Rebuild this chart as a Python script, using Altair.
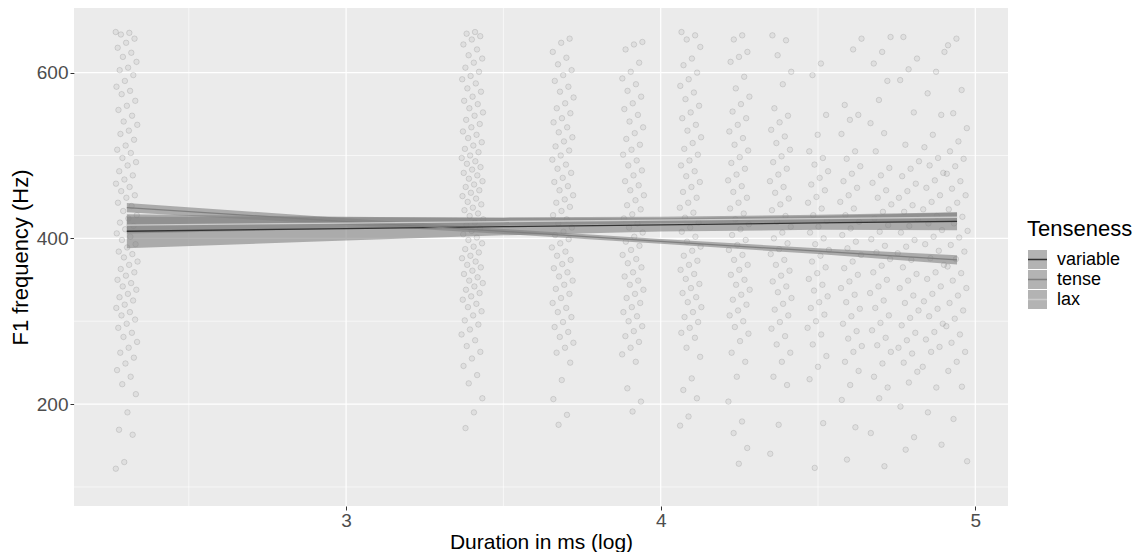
import altair as alt
import pandas as pd

# ---- scatter data: durations (ms) and F1 values read per column ----
durations = [10, 30, 40, 50, 60, 70, 80, 90, 100, 110, 120, 130, 140]

f1_10 = [649, 648, 646, 641, 636, 630, 624, 619, 613, 606, 603, 597, 590, 583, 578, 574, 566, 560, 555, 548,
         541, 537, 530, 526, 519, 512, 507, 503, 497, 492, 488, 481, 476, 471, 466, 462, 457, 452, 449, 443,
         439, 433, 428, 424, 419, 415, 411, 406, 402, 398, 393, 389, 384, 381, 377, 372, 368, 363, 359, 355,
         350, 346, 342, 338, 333, 329, 325, 320, 316, 311, 307, 302, 297, 292, 286, 281, 275, 268, 262, 256,
         249, 241, 233, 224, 212, 190, 169, 163, 130, 122]
f1_30 = [649, 647, 644, 640, 634, 628, 621, 617, 612, 606, 601, 596, 592, 587, 581, 577, 571, 566, 562, 557,
         552, 548, 543, 538, 534, 529, 525, 521, 516, 512, 508, 504, 500, 497, 493, 490, 486, 483, 479, 476,
         472, 469, 465, 462, 458, 455, 451, 448, 444, 441, 437, 434, 430, 427, 423, 419, 416, 412, 409, 405,
         401, 398, 394, 390, 387, 383, 379, 376, 372, 368, 365, 361, 357, 353, 349, 346, 342, 338, 334, 330,
         326, 321, 317, 312, 307, 301, 296, 290, 284, 277, 270, 263, 255, 246, 235, 225, 207, 190, 171]
f1_40 = [641, 636, 625, 618, 610, 603, 597, 590, 583, 577, 570, 563, 557, 551, 545, 540, 534, 528, 522, 517,
         511, 506, 500, 495, 489, 484, 479, 473, 468, 463, 458, 452, 447, 443, 438, 433, 428, 423, 418, 413,
         408, 404, 399, 394, 389, 384, 379, 374, 369, 364, 359, 354, 349, 344, 339, 333, 328, 322, 316, 311,
         305, 299, 293, 287, 281, 274, 268, 262, 250, 229, 206, 187, 175]
f1_50 = [637, 634, 628, 612, 601, 593, 586, 578, 571, 563, 556, 549, 541, 534, 527, 520, 513, 507, 501, 494,
         488, 482, 476, 469, 464, 458, 452, 446, 440, 435, 429, 424, 418, 413, 407, 402, 396, 391, 386, 380,
         375, 370, 365, 359, 354, 349, 344, 338, 333, 328, 322, 317, 311, 306, 300, 294, 288, 282, 275, 268,
         260, 251, 219, 203, 191]
f1_60 = [649, 645, 640, 631, 617, 609, 600, 592, 584, 576, 568, 560, 552, 545, 537, 530, 522, 515, 508, 501,
         494, 488, 481, 475, 468, 462, 456, 449, 443, 437, 431, 425, 419, 413, 408, 402, 396, 390, 385, 379,
         373, 368, 362, 357, 351, 345, 340, 334, 329, 323, 317, 311, 305, 299, 292, 286, 280, 268, 257, 231,
         217, 207, 185, 174]
f1_70 = [645, 640, 625, 619, 613, 595, 581, 571, 562, 553, 545, 537, 529, 521, 513, 506, 498, 491, 484, 477,
         470, 463, 456, 449, 443, 436, 430, 423, 417, 411, 404, 398, 392, 386, 380, 374, 368, 362, 356, 350,
         344, 338, 332, 326, 320, 313, 307, 300, 293, 285, 276, 262, 251, 233, 203, 179, 165, 147, 128]
f1_80 = [645, 639, 621, 601, 586, 557, 548, 540, 531, 523, 515, 507, 499, 492, 484, 477, 469, 462, 455, 448,
         441, 434, 427, 420, 414, 407, 400, 394, 387, 381, 374, 368, 361, 355, 348, 342, 335, 328, 321, 314,
         307, 299, 291, 282, 272, 262, 251, 233, 223, 175, 140]
f1_90 = [611, 597, 549, 525, 505, 497, 489, 481, 473, 465, 458, 450, 443, 436, 428, 421, 414, 407, 400, 393,
         386, 379, 372, 365, 358, 351, 344, 337, 330, 323, 316, 308, 300, 292, 284, 272, 258, 245, 230, 177, 123]
f1_100 = [641, 628, 561, 549, 543, 526, 505, 496, 487, 478, 469, 461, 452, 444, 436, 428, 420, 412, 404, 396,
          388, 380, 372, 364, 356, 348, 340, 332, 323, 315, 306, 297, 288, 279, 270, 263, 251, 240, 223, 205,
          172, 133]
f1_110 = [643, 625, 611, 590, 567, 539, 527, 505, 485, 476, 467, 458, 449, 441, 432, 424, 416, 408, 399, 391,
          383, 375, 367, 359, 350, 342, 334, 325, 316, 307, 298, 289, 280, 271, 263, 249, 233, 220, 207, 165, 125]
f1_120 = [643, 617, 604, 591, 552, 513, 493, 484, 475, 466, 457, 449, 440, 432, 423, 415, 407, 398, 390, 382,
          374, 365, 357, 349, 340, 331, 322, 313, 304, 295, 286, 277, 268, 261, 250, 239, 226, 197, 160, 145]
f1_130 = [625, 601, 575, 549, 525, 510, 497, 488, 479, 470, 461, 452, 444, 435, 427, 418, 410, 402, 393, 385,
          376, 368, 359, 351, 342, 333, 324, 315, 306, 297, 287, 278, 269, 263, 245, 220, 190, 151]
f1_140 = [641, 633, 579, 551, 533, 517, 505, 496, 487, 478, 469, 460, 452, 443, 435, 426, 418, 409, 401, 392,
          384, 375, 366, 358, 349, 340, 331, 322, 313, 303, 294, 284, 274, 263, 251, 240, 221, 182, 131]

columns = [f1_10, f1_30, f1_40, f1_50, f1_60, f1_70, f1_80, f1_90, f1_100, f1_110, f1_120, f1_130, f1_140]

# ---- regression lines with confidence bands ----
tenseness = ["variable", "tense", "lax"]
line_colors = ["#333333", "#7F7F7F", "#CCCCCC"]
band_x = [2.303, 3.0, 3.5, 4.0, 4.5, 4.942]
fit_values = {
    "variable": [408.6, 411.8, 414.1, 416.3, 418.6, 420.6],
    "tense": [437.0, 420.3, 408.4, 396.4, 384.5, 374.0],
    "lax": [416.0, 418.5, 420.3, 422.1, 423.9, 425.5],
}
half_widths = {
    "variable": [20.5, 14.3, 10.4, 8.0, 8.3, 10.7],
    "tense": [5.6, 4.0, 3.0, 2.8, 3.5, 5.6],
    "lax": [10.0, 7.0, 5.0, 4.0, 4.5, 6.0],
}

major_x = [3, 4, 5]
minor_x = [2.5, 3.5, 4.5]
major_y = [200, 400, 600]
minor_y = [100, 300, 500]

# ---- tables ----
rows = []
for d, vals in zip(durations, columns):
    for v in vals:
        rows.append({"dur": d, "f1": v})
points_df = pd.DataFrame(rows)
points_df["i"] = range(len(points_df))

fit_rows = []
band_rows = []
for g in tenseness:
    for x, f, h in zip(band_x, fit_values[g], half_widths[g]):
        fit_rows.append({"x": x, "fit": f, "Tenseness": g})
        band_rows.append({"bx": x, "lo": f - h, "hi": f + h, "Group": g})
fit_df = pd.DataFrame(fit_rows)
band_df = pd.DataFrame(band_rows)

FONT = "Liberation Sans"

xscale = alt.Scale(domain=[2.135, 5.104], nice=False, zero=False)
yscale = alt.Scale(domain=[77, 678], nice=False, zero=False)

x_axis = alt.Axis(values=major_x, format="d", title="Duration in ms (log)", grid=False,
                  domain=False, labelFontSize=19, labelColor="#4D4D4D", tickColor="#333333",
                  tickSize=4, labelPadding=1, titleFontSize=21, titleFontWeight="normal",
                  titleColor="black", titlePadding=1, labelFont=FONT, titleFont=FONT)
y_axis = alt.Axis(values=major_y, format="d", title="F1 frequency (Hz)", grid=False,
                  domain=False, labelFontSize=19, labelColor="#4D4D4D", tickColor="#333333",
                  tickSize=4, labelPadding=2, titleFontSize=22, titleFontWeight="normal",
                  titleColor="black", titlePadding=4, labelFont=FONT, titleFont=FONT)


def X(field):
    return alt.X(field, scale=xscale, axis=x_axis, title="Duration in ms (log)")


def Y(field):
    return alt.Y(field, scale=yscale, axis=y_axis, title="F1 frequency (Hz)")


grid_minor_x = alt.Chart(pd.DataFrame({"gx": minor_x})).mark_rule(color="white", strokeWidth=0.6).encode(
    x=X("gx:Q"))
grid_major_x = alt.Chart(pd.DataFrame({"gx": major_x})).mark_rule(color="white", strokeWidth=1.2).encode(
    x=X("gx:Q"))
grid_minor_y = alt.Chart(pd.DataFrame({"gy": minor_y})).mark_rule(color="white", strokeWidth=0.6).encode(
    y=Y("gy:Q"))
grid_major_y = alt.Chart(pd.DataFrame({"gy": major_y})).mark_rule(color="white", strokeWidth=1.2).encode(
    y=Y("gy:Q"))

points = alt.Chart(points_df).transform_calculate(
    lx="log(datum.dur) + ((datum.i * 0.6180339887) % 1 - 0.5) * 0.07"
).mark_circle(size=30, color="#555555", fillOpacity=0.08, stroke="#555555", strokeOpacity=0.22,
              strokeWidth=0.8).encode(
    x=X("lx:Q"),
    y=Y("f1:Q"),
)

legend_common = dict(orient="none", legendX=953, titleFontSize=22, titleFontWeight="normal",
                     titleFont=FONT, labelFont=FONT, labelFontSize=18, rowPadding=0, symbolSize=361,
                     labelOffset=9, titlePadding=8)

bands = alt.Chart(band_df).mark_area(opacity=0.6).encode(
    x=X("bx:Q"),
    y=Y("lo:Q"),
    y2="hi:Q",
    color=alt.Color("Group:N", scale=alt.Scale(domain=tenseness, range=["#808080"] * 3),
                    legend=alt.Legend(symbolType="square", titleColor="black", labelColor="black",
                                      zindex=0, legendY=211, title="Tenseness", **legend_common)),
)

lines = alt.Chart(fit_df).mark_line(strokeWidth=1.3).encode(
    x=X("x:Q"),
    y=Y("fit:Q"),
    stroke=alt.Stroke("Tenseness:N", scale=alt.Scale(domain=tenseness, range=line_colors),
                      legend=alt.Legend(symbolType="stroke", symbolStrokeWidth=1.5, labelExpr="''",
                                        zindex=1, legendY=241, title=None, **legend_common)),
    order=alt.Order("x:Q"),
)

chart = alt.layer(grid_minor_x, grid_major_x, grid_minor_y, grid_major_y, points, bands, lines).resolve_scale(
    color="independent", stroke="independent"
).properties(
    width=934, height=498,
    autosize=alt.AutoSizeParams(type="none"),
    padding={"left": 66, "top": 0, "right": 126, "bottom": 46},
).configure(font=FONT).configure_view(fill="#EBEBEB", stroke=None)

chart.save("out.html", embed_options={"renderer": "svg", "actions": False})
